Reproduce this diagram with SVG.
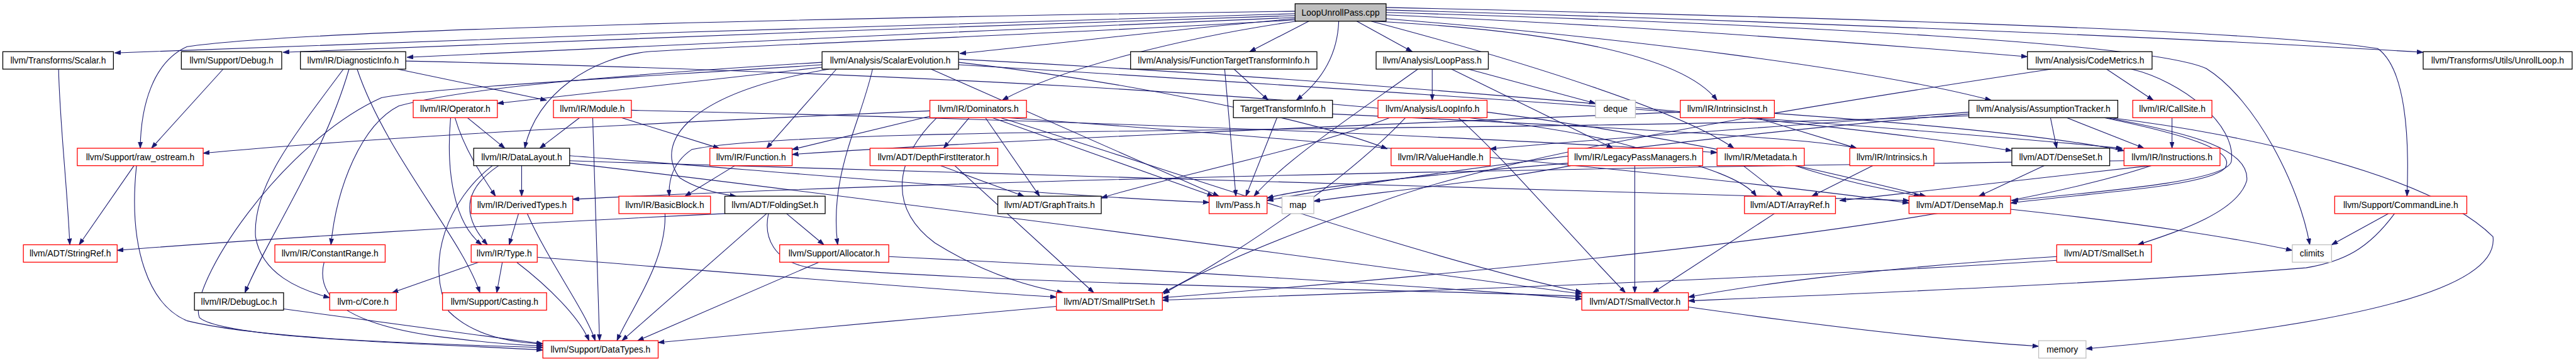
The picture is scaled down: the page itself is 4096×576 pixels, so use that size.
<svg xmlns="http://www.w3.org/2000/svg" width="4096" height="576" viewBox="0 0 4096 576">
<defs>
<marker id="a" markerUnits="userSpaceOnUse" markerWidth="11" markerHeight="8" refX="10" refY="3.5" orient="auto">
<path d="M0,0 L10,3.5 L0,7 z" fill="#191970" stroke="#191970" stroke-width="0.8"/>
</marker>
<style>
.e path{fill:none;stroke:#191970;stroke-width:1.1;marker-end:url(#a)}
.n rect{fill:#fff;stroke:#000;stroke-width:1.3}
.n.r rect{stroke:#ff0000}
.n.g rect{stroke:#bfbfbf}
.n.root rect{fill:#bfbfbf}
.n text{font-family:"Liberation Sans",Arial,sans-serif;font-size:14px;text-anchor:middle;fill:#000}
</style>
</defs>
<rect width="4096" height="576" fill="#fff"/>
<g transform="scale(0.991)">
<g id="edges" class="e">
<path d="M2078,22 C1600,36 700,62 184,85"/>
<path d="M2078,25 C1600,40 900,65 454,84"/>
<path d="M2078,28 C1600,48 1000,75 653,92"/>
<path d="M2078,18 C1500,26 500,45 300,75 C245,100 226,170 225,238"/>
<path d="M2078,30 C1900,45 1700,70 1540,86"/>
<path d="M2100,34 L2005,83"/>
<path d="M2177,34 L2266,83"/>
<path d="M2148,34 C2146,90 2120,130 2080,161"/>
<path d="M2078,32 C1700,55 1150,75 1040,83 C950,92 860,150 842,238"/>
<path d="M2080,34 C1900,60 1700,110 1608,161"/>
<path d="M2205,34 C2500,50 2700,90 2755,161"/>
<path d="M2200,34 C2450,100 2700,180 2782,238"/>
<path d="M2224,30 C2600,60 3000,110 3195,161"/>
<path d="M2224,24 C2600,40 3000,70 3253,91"/>
<path d="M2224,20 C2900,40 3450,70 3540,110 C3620,160 3690,300 3706,393"/>
<path d="M2224,16 C2800,32 3500,60 3888,84"/>
<path d="M2224,12 C2800,25 3600,45 3815,78 C3860,110 3866,220 3862,315"/>
<path d="M94,111 C96,200 108,300 112,393"/>
<path d="M358,111 L243,238"/>
<path d="M215,266 L127,393"/>
<path d="M219,266 C205,400 240,490 300,515 C420,545 700,553 871,558"/>
<path d="M638,111 L877,161"/>
<path d="M551,111 C470,220 405,300 410,380 C420,440 480,465 529,478"/>
<path d="M560,111 C520,250 430,380 393,470"/>
<path d="M573,111 C620,250 740,380 770,470"/>
<path d="M651,98 C1200,110 2300,150 2600,230 C2750,270 2800,290 2818,315"/>
<path d="M1319,108 L798,166"/>
<path d="M1319,100 C1000,120 750,140 640,170 C580,200 540,300 531,393"/>
<path d="M1319,104 C1000,125 700,140 612,157 C450,230 300,460 320,510 C360,545 700,552 871,562"/>
<path d="M1342,111 L1230,238"/>
<path d="M1330,111 C1100,150 1050,230 1090,285 C1120,305 1160,312 1181,315"/>
<path d="M1400,111 C1380,200 1330,280 1344,393"/>
<path d="M1494,111 L1956,315"/>
<path d="M1538,100 C1800,130 2100,190 2226,239"/>
<path d="M1538,95 C2200,130 2900,190 3228,242"/>
<path d="M1538,104 C2300,150 3000,200 3405,238"/>
<path d="M1965,111 L1983,315"/>
<path d="M1980,111 L2035,161"/>
<path d="M2298,111 L2298,161"/>
<path d="M2329,111 L2588,238"/>
<path d="M2356,111 L2560,166"/>
<path d="M2275,111 C2150,200 2060,260 2012,315"/>
<path d="M3380,111 L3455,161"/>
<path d="M3291,111 C2900,170 2400,250 2200,330 C2000,400 1900,450 1867,472"/>
<path d="M3420,111 C3500,130 3590,200 3580,260 C3570,290 3400,305 3228,322"/>
<path d="M2049,189 L1999,315"/>
<path d="M2138,183 C2500,200 2900,220 2979,238"/>
<path d="M750,189 L810,238"/>
<path d="M730,189 C745,240 775,285 795,315"/>
<path d="M723,189 C715,280 730,360 773,393"/>
<path d="M930,189 L866,238"/>
<path d="M997,189 L1154,238"/>
<path d="M951,189 L962,547"/>
<path d="M1013,177 C1600,190 2300,215 2755,245"/>
<path d="M837,266 L837,315"/>
<path d="M800,266 C750,300 735,340 782,393"/>
<path d="M790,266 C720,320 680,420 720,500 C760,540 820,550 871,552"/>
<path d="M914,250 C1300,280 1700,315 1940,325"/>
<path d="M914,258 C1800,290 2700,305 3063,322"/>
<path d="M914,262 C1500,330 2300,440 2538,472"/>
<path d="M1179,266 L1099,315"/>
<path d="M832,343 L817,393"/>
<path d="M846,343 C880,420 940,500 955,547"/>
<path d="M1067,343 C1070,420 1010,500 990,547"/>
<path d="M1163,343 C800,360 400,385 188,402"/>
<path d="M1230,343 L998,547"/>
<path d="M1262,343 L1322,393"/>
<path d="M1233,343 C1225,380 1240,420 1300,430 C1700,460 2300,465 2538,476"/>
<path d="M768,421 L629,470"/>
<path d="M806,421 L797,470"/>
<path d="M829,421 C880,460 930,510 945,547"/>
<path d="M862,413 C1200,440 1500,465 1695,477"/>
<path d="M1314,421 L1023,547"/>
<path d="M1426,412 C1800,430 2300,460 2538,480"/>
<path d="M520,421 C505,480 560,520 700,540 C780,550 830,555 871,555"/>
<path d="M455,496 L871,552"/>
<path d="M1509,266 L1643,315"/>
<path d="M1532,266 L1755,470"/>
<path d="M1555,189 L1514,238"/>
<path d="M1581,189 L1668,315"/>
<path d="M1592,189 L1947,315"/>
<path d="M1503,189 C1440,250 1420,330 1500,390 C1580,440 1650,460 1706,470"/>
<path d="M1615,189 C2200,230 2800,290 3063,326"/>
<path d="M1605,189 C1900,280 2300,420 2538,469"/>
<path d="M1495,186 L1271,240"/>
<path d="M1492,178 C1100,195 600,220 326,246"/>
<path d="M2230,189 C2100,240 1850,290 1767,318"/>
<path d="M2340,189 C2420,260 2520,380 2608,470"/>
<path d="M2255,189 C2150,300 1950,430 1865,470"/>
<path d="M2386,180 C2700,220 2950,280 3090,315"/>
<path d="M2623,266 L2623,470"/>
<path d="M2520,266 C2400,290 2200,310 2108,323"/>
<path d="M2516,262 C2300,280 2100,300 2033,318"/>
<path d="M2797,266 L2860,315"/>
<path d="M2880,266 C2950,290 3030,305 3081,315"/>
<path d="M3005,266 L2907,315"/>
<path d="M2818,189 L2979,238"/>
<path d="M2696,180 C2200,200 1600,225 1271,248"/>
<path d="M2847,182 C3100,200 3300,220 3408,242"/>
<path d="M3290,189 L3300,238"/>
<path d="M3316,189 L3440,238"/>
<path d="M3376,189 C3500,215 3590,240 3570,270 C3540,300 3350,310 3226,326"/>
<path d="M3380,189 C3520,215 3610,240 3605,290 C3590,340 3500,370 3430,393"/>
<path d="M3385,189 C3600,215 3900,280 4000,380 C4010,460 3800,520 3347,560"/>
<path d="M3159,180 C2900,200 2600,220 2391,239"/>
<path d="M3159,183 C2700,220 2200,290 2033,322"/>
<path d="M3159,186 C2400,215 1300,200 1110,240 C1080,260 1072,290 1074,315"/>
<path d="M3280,266 L3175,315"/>
<path d="M3485,189 L3485,238"/>
<path d="M3450,266 L2952,322"/>
<path d="M3452,266 C3200,350 2600,420 1865,478"/>
<path d="M3408,258 C2500,270 1500,290 919,320"/>
<path d="M2847,343 L2652,470"/>
<path d="M3226,336 C3450,360 3600,385 3678,402"/>
<path d="M3300,412 C3000,430 2800,460 2709,477"/>
<path d="M3300,418 C2800,450 2200,470 1865,482"/>
<path d="M3832,343 L3741,393"/>
<path d="M3842,343 C3800,400 3760,420 3700,430 C3400,455 2900,475 2709,483"/>
<path d="M2709,493 C2900,520 3100,545 3271,556"/>
<path d="M1695,492 C1500,510 1200,535 1056,550"/>
</g>
<g id="n0" class="n root"><rect x="2078" y="6" width="146" height="28"/><text x="2151" y="25">LoopUnrollPass.cpp</text></g>
<g id="n1" class="n"><rect x="4.5" y="83" width="177.5" height="28"/><text x="93.25" y="102">llvm/Transforms/Scalar.h</text></g>
<g id="n2" class="n"><rect x="291" y="83" width="161" height="28"/><text x="371.5" y="102">llvm/Support/Debug.h</text></g>
<g id="n3" class="n"><rect x="482" y="83" width="169" height="28"/><text x="566.5" y="102">llvm/IR/DiagnosticInfo.h</text></g>
<g id="n4" class="n"><rect x="1319" y="83" width="219" height="28"/><text x="1428.5" y="102">llvm/Analysis/ScalarEvolution.h</text></g>
<g id="n5" class="n"><rect x="1814" y="83" width="299" height="28"/><text x="1963.5" y="102">llvm/Analysis/FunctionTargetTransformInfo.h</text></g>
<g id="n6" class="n"><rect x="2208" y="83" width="180" height="28"/><text x="2298" y="102">llvm/Analysis/LoopPass.h</text></g>
<g id="n7" class="n"><rect x="3253" y="83" width="200" height="28"/><text x="3353" y="102">llvm/Analysis/CodeMetrics.h</text></g>
<g id="n8" class="n"><rect x="3888" y="83" width="239" height="28"/><text x="4007.5" y="102">llvm/Transforms/Utils/UnrollLoop.h</text></g>
<g id="n9" class="n r"><rect x="663" y="161" width="135" height="28"/><text x="730.5" y="180">llvm/IR/Operator.h</text></g>
<g id="n10" class="n r"><rect x="888" y="161" width="125" height="28"/><text x="950.5" y="180">llvm/IR/Module.h</text></g>
<g id="n11" class="n r"><rect x="1492" y="161" width="155" height="28"/><text x="1569.5" y="180">llvm/IR/Dominators.h</text></g>
<g id="n12" class="n"><rect x="1979" y="161" width="159" height="28"/><text x="2058.5" y="180">TargetTransformInfo.h</text></g>
<g id="n13" class="n r"><rect x="2211" y="161" width="175" height="28"/><text x="2298.5" y="180">llvm/Analysis/LoopInfo.h</text></g>
<g id="n14" class="n g"><rect x="2560" y="161" width="64" height="28"/><text x="2592" y="180">deque</text></g>
<g id="n15" class="n r"><rect x="2696" y="161" width="151" height="28"/><text x="2771.5" y="180">llvm/IR/IntrinsicInst.h</text></g>
<g id="n16" class="n"><rect x="3159" y="161" width="239" height="28"/><text x="3278.5" y="180">llvm/Analysis/AssumptionTracker.h</text></g>
<g id="n17" class="n r"><rect x="3422" y="161" width="127" height="28"/><text x="3485.5" y="180">llvm/IR/CallSite.h</text></g>
<g id="n18" class="n r"><rect x="124" y="238" width="202" height="28"/><text x="225" y="257">llvm/Support/raw_ostream.h</text></g>
<g id="n19" class="n"><rect x="760" y="238" width="154" height="28"/><text x="837" y="257">llvm/IR/DataLayout.h</text></g>
<g id="n20" class="n r"><rect x="1139" y="238" width="132" height="28"/><text x="1205" y="257">llvm/IR/Function.h</text></g>
<g id="n21" class="n r"><rect x="1396" y="238" width="205" height="28"/><text x="1498.5" y="257">llvm/ADT/DepthFirstIterator.h</text></g>
<g id="n22" class="n r"><rect x="2232" y="238" width="159" height="28"/><text x="2311.5" y="257">llvm/IR/ValueHandle.h</text></g>
<g id="n23" class="n r"><rect x="2516" y="238" width="216" height="28"/><text x="2624" y="257">llvm/IR/LegacyPassManagers.h</text></g>
<g id="n24" class="n r"><rect x="2755" y="238" width="140" height="28"/><text x="2825" y="257">llvm/IR/Metadata.h</text></g>
<g id="n25" class="n r"><rect x="2968" y="238" width="135" height="28"/><text x="3035.5" y="257">llvm/IR/Intrinsics.h</text></g>
<g id="n26" class="n"><rect x="3228" y="238" width="157" height="28"/><text x="3306.5" y="257">llvm/ADT/DenseSet.h</text></g>
<g id="n27" class="n r"><rect x="3408" y="238" width="154" height="28"/><text x="3485" y="257">llvm/IR/Instructions.h</text></g>
<g id="n28" class="n r"><rect x="756" y="315" width="163" height="28"/><text x="837.5" y="334">llvm/IR/DerivedTypes.h</text></g>
<g id="n29" class="n r"><rect x="993" y="315" width="147" height="28"/><text x="1066.5" y="334">llvm/IR/BasicBlock.h</text></g>
<g id="n30" class="n"><rect x="1163" y="315" width="161" height="28"/><text x="1243.5" y="334">llvm/ADT/FoldingSet.h</text></g>
<g id="n31" class="n"><rect x="1601" y="315" width="166" height="28"/><text x="1684" y="334">llvm/ADT/GraphTraits.h</text></g>
<g id="n32" class="n r"><rect x="1940" y="315" width="93" height="28"/><text x="1986.5" y="334">llvm/Pass.h</text></g>
<g id="n33" class="n g"><rect x="2057" y="315" width="51" height="28"/><text x="2082.5" y="334">map</text></g>
<g id="n34" class="n r"><rect x="2799" y="315" width="146" height="28"/><text x="2872" y="334">llvm/ADT/ArrayRef.h</text></g>
<g id="n35" class="n r"><rect x="3063" y="315" width="163" height="28"/><text x="3144.5" y="334">llvm/ADT/DenseMap.h</text></g>
<g id="n36" class="n r"><rect x="3746" y="315" width="212" height="28"/><text x="3852" y="334">llvm/Support/CommandLine.h</text></g>
<g id="n37" class="n r"><rect x="37.5" y="393" width="150.5" height="28"/><text x="112.75" y="412">llvm/ADT/StringRef.h</text></g>
<g id="n38" class="n r"><rect x="441" y="393" width="177" height="28"/><text x="529.5" y="412">llvm/IR/ConstantRange.h</text></g>
<g id="n39" class="n r"><rect x="756" y="393" width="106" height="28"/><text x="809" y="412">llvm/IR/Type.h</text></g>
<g id="n40" class="n r"><rect x="1251" y="393" width="175" height="28"/><text x="1338.5" y="412">llvm/Support/Allocator.h</text></g>
<g id="n41" class="n r"><rect x="3300" y="393" width="152" height="28"/><text x="3376" y="412">llvm/ADT/SmallSet.h</text></g>
<g id="n42" class="n g"><rect x="3678" y="393" width="63" height="28"/><text x="3709.5" y="412">climits</text></g>
<g id="n43" class="n"><rect x="312" y="470" width="143" height="28"/><text x="383.5" y="489">llvm/IR/DebugLoc.h</text></g>
<g id="n44" class="n r"><rect x="529" y="470" width="107" height="28"/><text x="582.5" y="489">llvm-c/Core.h</text></g>
<g id="n45" class="n r"><rect x="710" y="470" width="167" height="28"/><text x="793.5" y="489">llvm/Support/Casting.h</text></g>
<g id="n46" class="n r"><rect x="1695" y="470" width="170" height="28"/><text x="1780" y="489">llvm/ADT/SmallPtrSet.h</text></g>
<g id="n47" class="n r"><rect x="2538" y="470" width="171" height="28"/><text x="2623.5" y="489">llvm/ADT/SmallVector.h</text></g>
<g id="n48" class="n r"><rect x="871" y="547" width="185" height="28"/><text x="963.5" y="566">llvm/Support/DataTypes.h</text></g>
<g id="n49" class="n g"><rect x="3271" y="547" width="76" height="28"/><text x="3309" y="566">memory</text></g>
</g>
</svg>
